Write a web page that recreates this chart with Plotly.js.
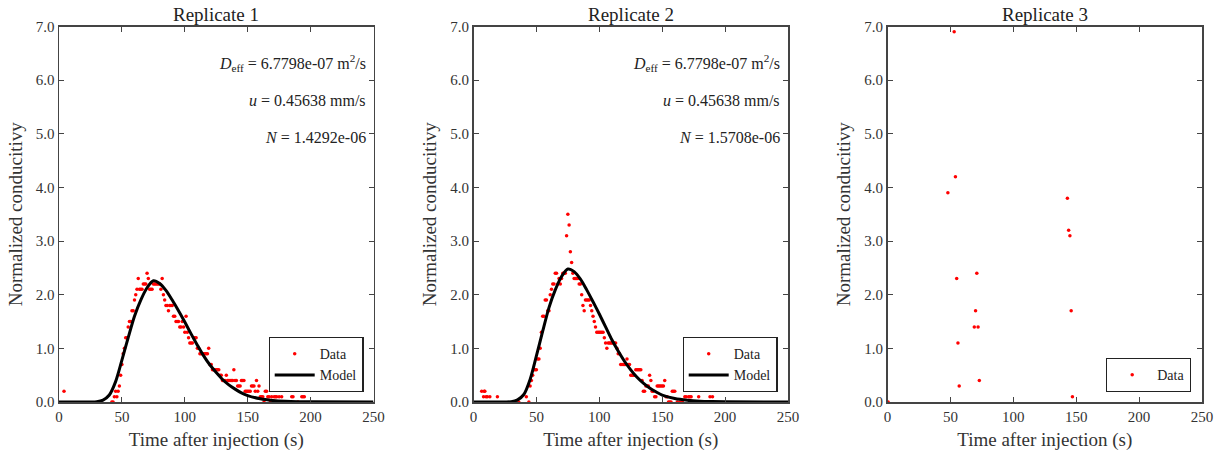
<!DOCTYPE html>
<html>
<head>
<meta charset="utf-8">
<script src="https://cdn.plot.ly/plotly-3.0.1.min.js"></script>
<style>html,body{margin:0;padding:0;background:#fff;}#chart{width:1226px;height:452px;}</style>
</head>
<body>
<div id="chart"></div>
<script>
// ---------- Replicate 1 data ----------
const rep1Time = [4,42,43,44,45,46,47,48,49,50,51,52,53,54,55,56,57,58,59,60,61,62,63,64,65,66,67,68,69,70,71,72,73,74,75,76,77,78,79,80,81,82,83,84,85,86,87,88,89,90,91,92,93,94,95,96,97,98,99,100,101,102,103,104,105,106,107,108,109,110,111,112,113,114,115,116,117,118,119,120,121,122,123,124,125,126,127,128,129,130,131,132,133,134,135,136,137,138,139,140,141,142,143,144,145,146,147,148,149,150,151,152,153,154,155,156,157,158,159,160,161,162,163,164,165,166,167,168,169,170,171,172,173,174,175,176,177,178,180,185,186,190,193,194,195];
const rep1Value = [0.2,0.0,0.0,0.1,0.2,0.1,0.2,0.3,0.5,0.7,0.9,1.0,1.2,1.2,1.4,1.5,1.5,1.7,1.7,1.9,2.0,2.1,2.3,2.1,2.1,2.1,2.2,2.2,2.2,2.4,2.3,2.1,2.1,2.1,2.2,2.2,2.2,2.2,2.2,2.2,2.1,2.3,2.0,1.9,1.8,1.8,1.7,1.8,1.8,1.8,1.6,1.6,1.5,1.5,1.5,1.4,1.4,1.5,1.4,1.3,1.6,1.3,1.2,1.1,1.1,1.1,1.2,1.2,1.2,1.0,1.0,0.9,0.9,0.9,0.9,0.9,0.9,0.9,1.0,0.7,0.7,0.6,0.6,0.6,0.6,0.6,0.6,0.5,0.5,0.4,0.4,0.4,0.5,0.4,0.4,0.4,0.4,0.4,0.6,0.4,0.4,0.3,0.3,0.3,0.4,0.4,0.4,0.2,0.2,0.2,0.2,0.2,0.3,0.3,0.3,0.2,0.4,0.2,0.3,0.1,0.1,0.1,0.0,0.2,0.2,0.1,0.1,0.0,0.1,0.0,0.1,0.1,0.1,0.0,0.1,0.0,0.1,0.0,0.0,0.1,0.1,0.0,0.1,0.1,0.1];

// ---------- Replicate 2 data ----------
const rep2Time = [6.5,8,8.5,9,10,11,13,19,36,42,44,45,46,47,48,49,50,51,52,53,54,55,56,57,58,59,60,61,62,63,64,65,66,67,68,69,70,71,72,73,74,75,76,77,78,79,80,81,82,83,84,85,86,87,88,89,90,91,92,93,94,95,96,97,98,99,100,101,102,103,104,105,106,107,108,109,110,111,112,113,114,115,116,117,118,119,120,121,122,123,124,125,126,127,128,129,130,131,132,133,134,135,136,137,138,139,140,141,142,143,144,145,146,147,148,149,150,151,152,153,154,155,156,157,158,159,160,162,164,166,168,169,171,172,173,179,188,190];
const rep2Value = [0.2,0.1,0.2,0.2,0.1,0.1,0.1,0.1,0.0,0.1,0.0,0.3,0.4,0.5,0.6,0.6,0.6,0.8,0.8,1.0,1.3,1.6,1.6,1.9,1.9,1.7,1.7,2.0,2.1,2.2,2.2,2.4,2.4,2.2,2.3,2.2,2.3,2.4,2.4,2.4,3.1,3.5,3.3,2.8,2.6,2.4,2.3,2.3,2.3,2.3,2.2,2.2,2.0,1.8,1.7,1.9,1.9,1.9,1.9,1.8,1.7,1.6,1.5,1.4,1.3,1.3,1.3,1.3,1.3,1.3,1.2,1.1,1.0,1.1,1.1,1.1,1.1,1.1,1.1,1.1,1.0,0.9,0.9,0.7,0.7,0.7,0.7,0.7,0.8,0.7,0.7,0.5,0.5,0.5,0.5,0.6,0.6,0.6,0.6,0.6,0.4,0.2,0.2,0.3,0.3,0.3,0.5,0.4,0.2,0.2,0.1,0.1,0.3,0.3,0.3,0.3,0.3,0.3,0.4,0.1,0.1,0.0,0.0,0.0,0.2,0.2,0.2,0.0,0.0,0.0,0.1,0.1,0.1,0.1,0.1,0.1,0.1,0.1];

// ---------- Replicate 3 data ----------
const rep3Time = [0.5,48,53,54,55,56,57,69,70,71,72,73,143,144,145,146,147];
const rep3Value = [0.0,3.9,6.9,4.2,2.3,1.1,0.3,1.4,1.7,2.4,1.4,0.4,3.8,3.2,3.1,1.7,0.1];

// ---------- Model curves ----------
const modelTime = [0,25,30,35,40,45,50,55,60,65,70,75,80,85,90,95,100,105,110,115,120,125,130,135,140,145,150,160,170,180,190,200,250];
const model1Value = [0,0,0.005,0.035,0.13,0.38,0.78,1.2,1.60,1.90,2.13,2.26,2.21,2.08,1.90,1.70,1.49,1.27,1.06,0.86,0.69,0.55,0.42,0.32,0.24,0.17,0.12,0.06,0.03,0.014,0.006,0.003,0];
const model2Value = [0,0,0.005,0.04,0.14,0.42,0.86,1.32,1.76,2.09,2.34,2.48,2.43,2.29,2.09,1.87,1.64,1.40,1.16,0.95,0.76,0.60,0.46,0.35,0.26,0.19,0.13,0.066,0.033,0.015,0.007,0.003,0];

// ---------- Fit annotations ----------
const fitText1 = ["<i>D</i><sub>eff</sub> = 6.7798e-07 m<sup>2</sup>/s", "<i>u</i> = 0.45638 mm/s", "<i>N</i> = 1.4292e-06"];
const fitText2 = ["<i>D</i><sub>eff</sub> = 6.7798e-07 m<sup>2</sup>/s", "<i>u</i> = 0.45638 mm/s", "<i>N</i> = 1.5708e-06"];
const panelTitles = ["Replicate 1", "Replicate 2", "Replicate 3"];
const xTickVals = [0,50,100,150,200,250];
const yTickVals = [0,1,2,3,4,5,6,7];

const FONT = "'Liberation Serif', 'DejaVu Serif', serif";
const W = 1226, H = 452;
const px = v => v / W;
const py = v => 1 - v / H;

const xDomains = [[px(59), px(373.5)], [px(473.5), px(788)], [px(887.5), px(1202)]];
const yDomain = [py(402), py(26.5)];

const dataMarker = {color: "#ff0000", size: 3.5};
const modelLine = {color: "#000000", width: 3, shape: "spline", smoothing: 0.8};

const traces = [
  {x: rep1Time, y: rep1Value, type: "scatter", mode: "markers", name: "Data", marker: dataMarker, xaxis: "x", yaxis: "y", legend: "legend"},
  {x: modelTime, y: model1Value, type: "scatter", mode: "lines", name: "Model", line: modelLine, xaxis: "x", yaxis: "y", legend: "legend"},
  {x: rep2Time, y: rep2Value, type: "scatter", mode: "markers", name: "Data", marker: dataMarker, xaxis: "x2", yaxis: "y2", legend: "legend2"},
  {x: modelTime, y: model2Value, type: "scatter", mode: "lines", name: "Model", line: modelLine, xaxis: "x2", yaxis: "y2", legend: "legend2"},
  {x: rep3Time, y: rep3Value, type: "scatter", mode: "markers", name: "Data", marker: dataMarker, xaxis: "x3", yaxis: "y3", legend: "legend3", showlegend: true}
];

function xAxis(i, anchor) {
  return {
    domain: xDomains[i], anchor: anchor, range: [0, 250], tickvals: xTickVals,
    ticks: "inside", ticklen: 5, tickcolor: "#444", tickwidth: 1,
    showline: true, linecolor: "#444", linewidth: 1.5, mirror: "ticks",
    showgrid: false, zeroline: false,
    tickfont: {family: FONT, size: 15, color: "#333"},
    title: {text: "Time after injection (s)", font: {family: FONT, size: 19, color: "#333"}, standoff: 9}
  };
}
function yAxis(anchor) {
  return {
    domain: yDomain, anchor: anchor, range: [0, 7], tickvals: yTickVals, tickformat: ".1f",
    ticks: "inside", ticklen: 5, tickcolor: "#444", tickwidth: 1,
    showline: true, linecolor: "#444", linewidth: 1.5, mirror: "ticks",
    showgrid: false, zeroline: false,
    tickfont: {family: FONT, size: 15, color: "#333"},
    title: {text: "Normalized conducitivy", font: {family: FONT, size: 19, color: "#333"}, standoff: 8}
  };
}

const annotations = [];
const titleX = [216, 630.7, 1044.7];
panelTitles.forEach((t, i) => {
  annotations.push({text: t, xref: "paper", yref: "paper", x: px(titleX[i]), y: py(15), xanchor: "center", yanchor: "middle", showarrow: false, font: {family: FONT, size: 19, color: "#222"}});
});
const fitY = [63, 101, 138];
[[fitText1, 368], [fitText2, 782]].forEach(([texts, right]) => {
  texts.forEach((t, j) => {
    annotations.push({text: t, xref: "paper", yref: "paper", x: px(right), y: py(fitY[j]), xanchor: "right", yanchor: "middle", showarrow: false, font: {family: FONT, size: 16, color: "#222"}});
  });
});

function legendBox(right, bottom) {
  return {x: px(right), y: py(bottom), xanchor: "right", yanchor: "bottom", xref: "paper", yref: "paper",
    bgcolor: "#fff", bordercolor: "#222", borderwidth: 1.2, font: {family: FONT, size: 14, color: "#222"},
    itemwidth: 40, tracegroupgap: 0};
}

const layout = {
  width: W, height: H, margin: {l: 0, r: 0, t: 0, b: 0},
  paper_bgcolor: "#fff", plot_bgcolor: "#fff",
  xaxis: xAxis(0, "y"), yaxis: yAxis("x"),
  xaxis2: xAxis(1, "y2"), yaxis2: yAxis("x2"),
  xaxis3: xAxis(2, "y3"), yaxis3: yAxis("x3"),
  legend: legendBox(363.5, 392),
  legend2: legendBox(777.5, 392),
  legend3: legendBox(1191, 392),
  annotations: annotations,
  showlegend: true
};

Plotly.newPlot("chart", traces, layout, {staticPlot: true, displayModeBar: false});
</script>
</body>
</html>
